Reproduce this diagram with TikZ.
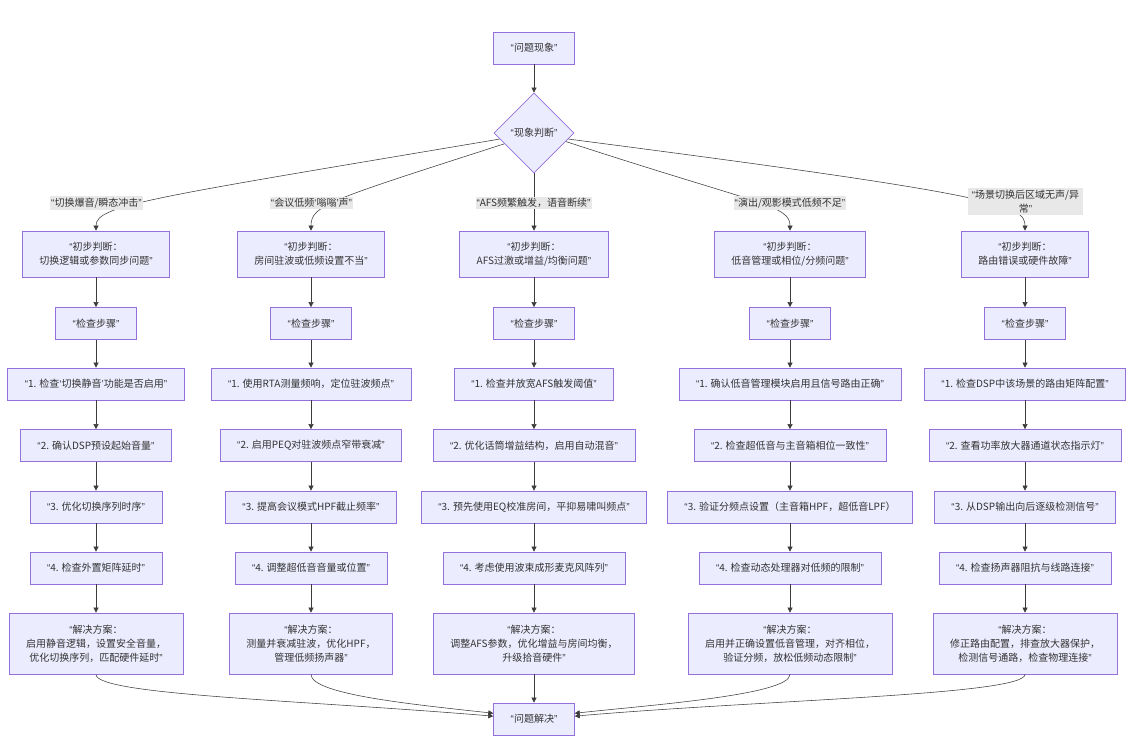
\documentclass[tikz,border=0pt]{standalone}
\usepackage{fontspec}
\setmainfont{Noto Sans CJK SC}
\newfontfamily\latf{Liberation Sans}
\newcommand{\oq}{{\latf “}}
\newcommand{\cq}{{\latf ”}}
\newcommand{\osq}{{\latf ‘}}
\newcommand{\csq}{{\latf ’}}
\usetikzlibrary{shapes.geometric,arrows.meta}
\definecolor{nfill}{RGB}{236,236,255}
\definecolor{nborder}{RGB}{147,112,219}
\definecolor{edgec}{RGB}{60,60,60}
\definecolor{lblfill}{RGB}{232,232,232}
\definecolor{txt}{RGB}{51,51,51}
\tikzset{
 base/.style={draw=nborder, fill=nfill, line width=0.75pt, text=txt, font=\fontsize{10}{14}\selectfont, align=center, inner xsep=17pt, inner ysep=0pt},
 box1/.style={base, minimum height=32pt},
 box2/.style={base, minimum height=46pt},
 box3/.style={base, minimum height=61pt},
 dia/.style={base, diamond, minimum width=80pt, minimum height=80pt, inner sep=0pt},
 lbl/.style={fill=lblfill, text=txt, font=\fontsize{10}{14}\selectfont, align=center, inner xsep=1pt, inner ysep=1.5pt},
 conn/.style={draw=edgec, line width=0.55pt, -{Triangle[length=5pt,width=5pt]}},
}
\begin{document}
\begin{tikzpicture}[x=1pt,y=-1pt]
\fill[white] (0,0) rectangle (1147,748);
\useasboundingbox (0,0) rectangle (1147,748);

\node[box1] (top) at (534,48) {\oq 问题现象\cq};
\node[dia] (d) at (534,133) {\oq 现象判断\cq};

% column 1
\node[box2] (c1) at (96,254) {\oq 初步判断：\\切换逻辑或参数同步问题\cq};
\node[box1] (k1) at (96,323.5) {\oq 检查步骤\cq};
\node[box1] (a1) at (96,384) {\oq 1. 检查\osq 切换静音\csq 功能是否启用\cq};
\node[box1] (b1) at (96,445.5) {\oq 2. 确认DSP预设起始音量\cq};
\node[box1] (e1) at (96,507) {\oq 3. 优化切换序列时序\cq};
\node[box1] (f1) at (96,568) {\oq 4. 检查外置矩阵延时\cq};
\node[box3] (s1) at (96,643.5) {\oq 解决方案：\\启用静音逻辑，设置安全音量，\\优化切换序列，匹配硬件延时\cq};

% column 2
\node[box2] (c2) at (311,254) {\oq 初步判断：\\房间驻波或低频设置不当\cq};
\node[box1] (k2) at (311,323.5) {\oq 检查步骤\cq};
\node[box1] (a2) at (311,384) {\oq 1. 使用RTA测量频响，定位驻波频点\cq};
\node[box1] (b2) at (311,445.5) {\oq 2. 启用PEQ对驻波频点窄带衰减\cq};
\node[box1] (e2) at (311,507) {\oq 3. 提高会议模式HPF截止频率\cq};
\node[box1] (f2) at (311,568) {\oq 4. 调整超低音音量或位置\cq};
\node[box3] (s2) at (311,643.5) {\oq 解决方案：\\测量并衰减驻波，优化HPF，\\管理低频扬声器\cq};

% column 3
\node[box2] (c3) at (534,254) {\oq 初步判断：\\AFS过激或增益/均衡问题\cq};
\node[box1] (k3) at (534,323.5) {\oq 检查步骤\cq};
\node[box1] (a3) at (534,384) {\oq 1. 检查并放宽AFS触发阈值\cq};
\node[box1] (b3) at (534,445.5) {\oq 2. 优化话筒增益结构，启用自动混音\cq};
\node[box1] (e3) at (534,507) {\oq 3. 预先使用EQ校准房间，平抑易啸叫频点\cq};
\node[box1] (f3) at (534,568) {\oq 4. 考虑使用波束成形麦克风阵列\cq};
\node[box3] (s3) at (534,643.5) {\oq 解决方案：\\调整AFS参数，优化增益与房间均衡，\\升级拾音硬件\cq};

% column 4
\node[box2] (c4) at (790,254) {\oq 初步判断：\\低音管理或相位/分频问题\cq};
\node[box1] (k4) at (790,323.5) {\oq 检查步骤\cq};
\node[box1] (a4) at (790,384) {\oq 1. 确认低音管理模块启用且信号路由正确\cq};
\node[box1] (b4) at (790,445.5) {\oq 2. 检查超低音与主音箱相位一致性\cq};
\node[box1] (e4) at (790,507) {\oq 3. 验证分频点设置（主音箱HPF，超低音LPF）};
\node[box1] (f4) at (790,568) {\oq 4. 检查动态处理器对低频的限制\cq};
\node[box3] (s4) at (790,643.5) {\oq 解决方案：\\启用并正确设置低音管理，对齐相位，\\验证分频，放松低频动态限制\cq};

% column 5
\node[box2] (c5) at (1025,254) {\oq 初步判断：\\路由错误或硬件故障\cq};
\node[box1] (k5) at (1025,323.5) {\oq 检查步骤\cq};
\node[box1] (a5) at (1025,384) {\oq 1. 检查DSP中该场景的路由矩阵配置\cq};
\node[box1] (b5) at (1025,445.5) {\oq 2. 查看功率放大器通道状态指示灯\cq};
\node[box1] (e5) at (1025,507) {\oq 3. 从DSP输出向后逐级检测信号\cq};
\node[box1] (f5) at (1025,568) {\oq 4. 检查扬声器阻抗与线路连接\cq};
\node[box3] (s5) at (1025,643.5) {\oq 解决方案：\\修正路由配置，排查放大器保护，\\检测信号通路，检查物理连接\cq};

\node[box1] (fin) at (534,719) {\oq 问题解决\cq};

% connectors
\draw[conn] (top) -- (d);
\draw[conn] (d.190) .. controls (150,198) and (96,205) .. (c1.north);
\draw[conn] (d.200) .. controls (330,200) and (311,205) .. (c2.north);
\draw[conn] (d.south) -- (c3.north);
\draw[conn] (d.-15) .. controls (760,205) and (790,205) .. (c4.north);
\draw[conn] (d.-10) .. controls (1000,195) and (1025,205) .. (c5.north);

\foreach \i in {1,...,5}{
  \draw[conn] (c\i) -- (k\i);
  \draw[conn] (k\i) -- (a\i);
  \draw[conn] (a\i) -- (b\i);
  \draw[conn] (b\i) -- (e\i);
  \draw[conn] (e\i) -- (f\i);
  \draw[conn] (f\i) -- (s\i);
}

\draw[conn] (s1.south) .. controls (96,695) and (300,700) .. (fin.176);
\draw[conn] (s2.south) .. controls (311,695) and (420,705) .. (fin.172);
\draw[conn] (s3.south) -- (fin.north);
\draw[conn] (s4.south) .. controls (790,695) and (650,705) .. (fin.8);
\draw[conn] (s5.south) .. controls (1025,695) and (760,700) .. (fin.4);

% edge labels
\node[lbl] (l1) at (96.5,203) {\oq 切换爆音/瞬态冲击\cq};
\node[lbl] (l2) at (311.5,203) {\oq 会议低频\osq 嗡嗡\csq 声\cq};
\node[lbl] (l3) at (533.5,203) {\oq AFS频繁触发，语音断续\cq};
\node[lbl] (l4) at (790,203) {\oq 演出/观影模式低频不足\cq};
\node[lbl, inner xsep=4pt] (l5) at (1025.5,201.5) {\oq 场景切换后区域无声/异\\常\cq};
\end{tikzpicture}
\end{document}
